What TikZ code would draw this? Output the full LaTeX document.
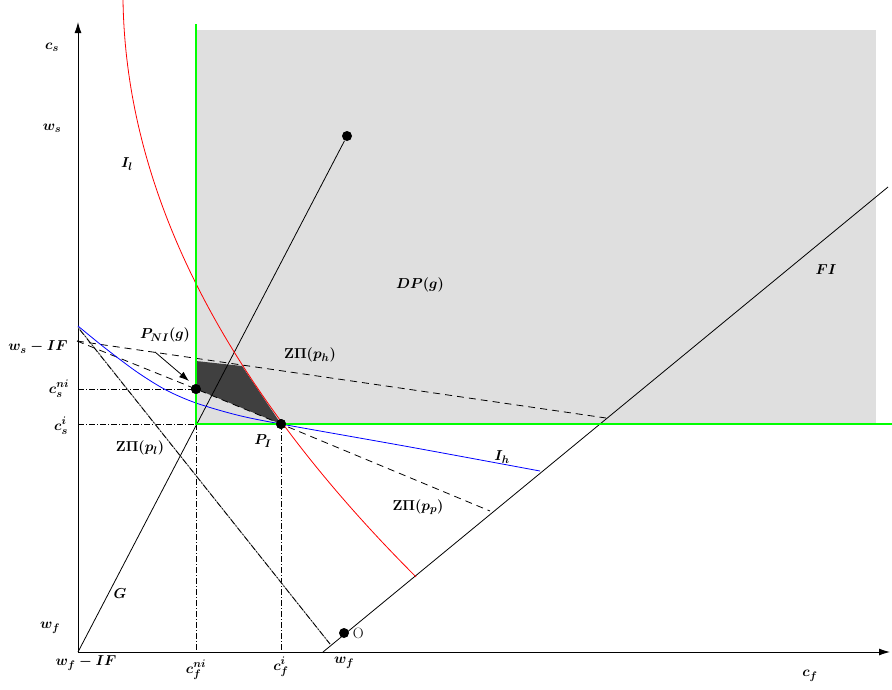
\documentclass[tikz,border=0pt]{standalone}
\usetikzlibrary{arrows.meta}
\definecolor{dpgray}{RGB}{223,223,223}
\definecolor{darkarea}{RGB}{64,64,64}
\begin{document}
\begin{tikzpicture}[x=1pt,y=-1pt,line width=0.8pt,
  lbl/.style={font=\fontsize{15}{17}\selectfont\boldmath,inner sep=1pt},
  dot/.style={circle,fill=black,inner sep=0pt,minimum size=10pt},
  zp/.style={dash pattern=on 7pt off 5pt},
  guide/.style={dash pattern=on 6pt off 2pt on 1pt off 2pt},
  ax/.style={-{Latex[length=11pt,width=7pt]},line width=0.9pt}]
  \useasboundingbox (0,0) rectangle (892,689);
  % region DP(g) and the dark set
  \fill[dpgray] (196,30) rectangle (876,424);
  \coordinate (wsif) at (77,341);
  \node[dot] (pni) at (196,389) {};
  \node[dot] (pi) at (281,424) {};
  \node[dot] (gend) at (347,136) {};
  \node[dot] (endow) at (344,633) {};
  \fill[darkarea] (196,361) -- (242,366) -- (pi.center) -- (pni.center) -- cycle;
  % axes
  \coordinate (org) at (78,652);
  \coordinate (ytop) at (78,22);
  \coordinate (xend) at (890,652);
  \draw[ax] (org) -- (ytop);
  \draw[ax] (org) -- (xend);
  % guides
  \draw[guide] (78,389) -- (pni.center);
  \draw[guide] (78,424) -- (pi.center);
  \draw[guide] (196,424) -- (196,652);
  \draw[guide] (pi.center) -- (281,652);
  % zero profit lines
  \draw[zp] (wsif) -- (606,418);
  \draw[zp] (wsif) -- (pni.center) -- (pi.center) -- (490,511);
  \draw[gray] (78,327) -- (330,644);
  \draw[guide] (80,330) -- (330,644);
  % G and FI
  \draw (org) -- (gend);
  \coordinate (fi0) at (323,652);
  \coordinate (fi1) at (888,187);
  \draw (fi0) -- (fi1);
  % indifference curves
  \draw[red] plot[domain=0:577,samples=80] ({123+0.015*\x+0.00085*\x*\x},\x);
  \draw[blue] plot[smooth] coordinates {(78,326) (105,348) (137,372) (166,390) (196,403) (237,415) (281,424) (410,447) (540,471)};
  \draw[green,line width=1.8pt] (196,24) -- (196,424) -- (892,424);
  \node[dot] at (pni) {};
  \node[dot] at (pi) {};
  % labels
  \node[lbl] (lcs) at (52,47) {$c_s$};
  \node[lbl] (lws) at (52,128) {$w_s$};
  \node[lbl] (lil) at (127,164) {$I_l$};
  \node[lbl] (lwsif) at (38,347) {$w_s-IF$};
  \node[lbl] (lcsni) at (59,389) {$c_s^{ni}$};
  \node[lbl] (lcsi) at (61,426) {$c_s^{i}$};
  \node[lbl] (lpni) at (165,335) {$P_{NI}(g)$};
  \draw[-{Latex[length=10pt,width=7pt]}] (155,352) -- (189,381);
  \node[lbl] (lph) at (310,355) {$\mathrm{Z}\Pi(p_h)$};
  \node[lbl] (ldp) at (420,285) {$DP(g)$};
  \node[lbl] (lfi) at (826,270) {$FI$};
  \node[lbl] (lpl) at (140,448) {$\mathrm{Z}\Pi(p_l)$};
  \node[lbl] (lpi) at (263,441) {$P_I$};
  \node[lbl] (lih) at (502,457) {$I_h$};
  \node[lbl] (lpp) at (418,507) {$\mathrm{Z}\Pi(p_p)$};
  \node[lbl] (lg) at (120,594) {$G$};
  \node[lbl] (lwf) at (50,628) {$w_f$};
  \node[lbl,right=2pt] (lo) at (endow.east) {O};
  \node[lbl] (lwfif) at (86,663) {$w_f-IF$};
  \node[lbl] (lcfni) at (196,670) {$c_f^{ni}$};
  \node[lbl] (lcfi) at (281,667) {$c_f^{i}$};
  \node[lbl] (lwf2) at (344,663) {$w_f$};
  \node[lbl] (lcf) at (810,676) {$c_f$};
\end{tikzpicture}
\end{document}
